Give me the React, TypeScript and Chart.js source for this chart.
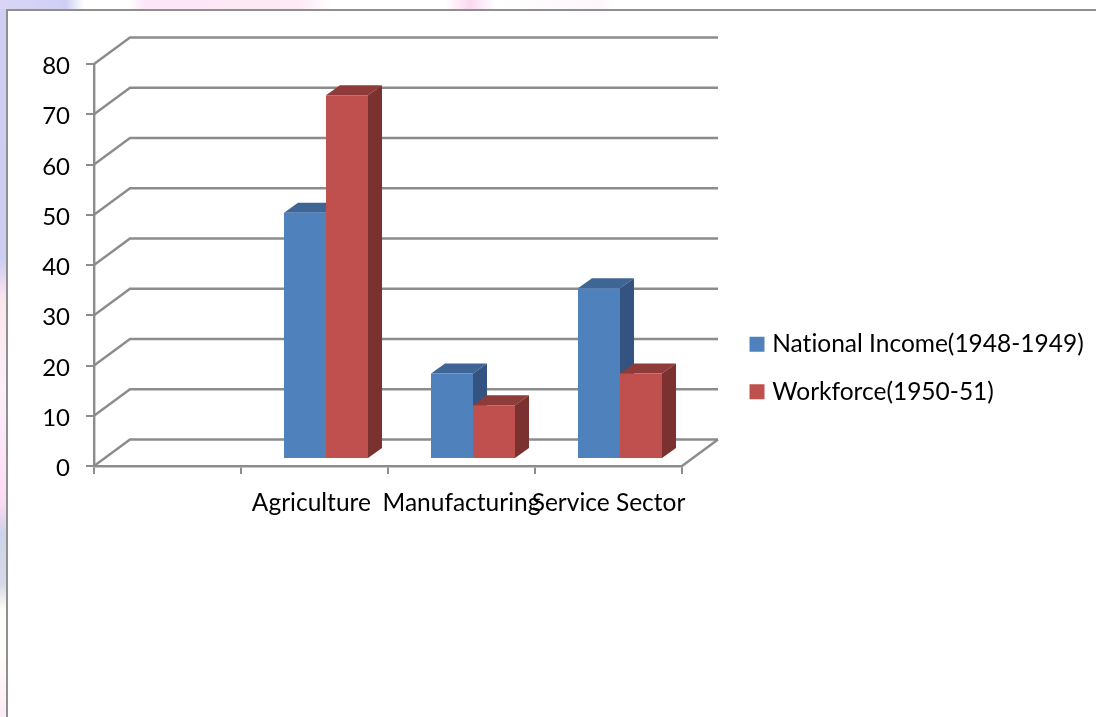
import React, { useEffect, useRef } from "react";
import { Chart, registerables } from "chart.js";

Chart.register(...registerables);

const categories = ["", "Agriculture ", "Manufacturing", "Service Sector"];
const nationalIncome = [null, 49, 17, 34];
const workforce = [null, 72.4, 10.7, 17];
const seriesNames = ["National Income(1948-1949)", "Workforce(1950-51)"];

const FONT = "Lato";
const GRID = "#8c8c8c";
const FRONT = ["#4f81bd", "#c0504d"];
const TOP = ["#3f6594", "#8f3b39"];
const SIDE = ["#335480", "#7b3130"];

// Perspective offsets for the back wall and for the bar depth.
const WALL = { x: 36, y: -26.5 };
const DEPTH = { x: 14, y: -10 };
const FLOOR_SHIFT = { x: 11.5, y: -7 };
const LEGEND_POS = { left: 731, top: 309 };

function poly(ctx: CanvasRenderingContext2D, color: string, pts: number[][]) {
  ctx.fillStyle = color;
  ctx.beginPath();
  pts.forEach(([x, y], i) => (i ? ctx.lineTo(x, y) : ctx.moveTo(x, y)));
  ctx.closePath();
  ctx.fill();
}

// Pseudo-3D: back wall lines, floor, and the top and side faces of each bar.
// Series are painted left to right so each front face covers its neighbour's side.
const depthPlugin = {
  id: "depth",
  beforeDatasetsDraw(chart: any) {
    const { ctx, chartArea, scales } = chart;
    ctx.save();
    ctx.strokeStyle = GRID;
    ctx.lineWidth = 2.4;
    ctx.lineJoin = "miter";
    for (const tick of scales.y.ticks) {
      const p = scales.y.getPixelForValue(tick.value);
      ctx.beginPath();
      ctx.moveTo(chartArea.left, p);
      ctx.lineTo(chartArea.left + WALL.x, p + WALL.y);
      ctx.lineTo(chartArea.right + WALL.x, p + WALL.y);
      ctx.stroke();
    }
    ctx.beginPath();
    ctx.moveTo(chartArea.right, chartArea.bottom);
    ctx.lineTo(chartArea.right + WALL.x, chartArea.bottom + WALL.y);
    ctx.stroke();
    ctx.restore();

    chart.data.datasets.forEach((ds: any, i: number) => {
      const meta = chart.getDatasetMeta(i);
      ctx.save();
      ctx.translate(FLOOR_SHIFT.x, FLOOR_SHIFT.y);
      meta.data.forEach((el: any, j: number) => {
        if (ds.data[j] == null) return;
        const l = el.x - el.width / 2;
        const r = el.x + el.width / 2;
        poly(ctx, TOP[i], [
          [l, el.y],
          [l + DEPTH.x, el.y + DEPTH.y],
          [r + DEPTH.x, el.y + DEPTH.y],
          [r, el.y],
        ]);
        poly(ctx, SIDE[i], [
          [r, el.y],
          [r + DEPTH.x, el.y + DEPTH.y],
          [r + DEPTH.x, el.base + DEPTH.y],
          [r, el.base],
        ]);
      });
      meta.controller.draw();
      ctx.restore();
    });
  },
  beforeDatasetDraw() {
    return false;
  },
  beforeDraw(chart: any) {
    chart.ctx.textRendering = "optimizeSpeed";
    // The legend floats to the right of the plot rather than taking layout room.
    const legend = chart.legend;
    legend.left = LEGEND_POS.left;
    legend.top = LEGEND_POS.top;
    legend.right = 1096;
    legend.bottom = 717;
  },
};

export default function App() {
  const ref = useRef<HTMLCanvasElement>(null);

  useEffect(() => {
    const chart = new Chart(ref.current!, {
      type: "bar",
      data: {
        labels: categories,
        datasets: [
          {
            label: seriesNames[0],
            data: nationalIncome,
            backgroundColor: FRONT[0],
            barPercentage: 1,
            categoryPercentage: 0.5714,
            borderWidth: 0,
          },
          {
            label: seriesNames[1],
            data: workforce,
            backgroundColor: FRONT[1],
            barPercentage: 1,
            categoryPercentage: 0.5714,
            borderWidth: 0,
          },
        ] as any,
      },
      plugins: [depthPlugin],
      options: {
        animation: false,
        responsive: false,
        layout: { padding: { left: 0, top: 64, right: 414, bottom: 0 } },
        plugins: {
          title: { display: false },
          tooltip: { enabled: false },
          legend: {
            position: "chartArea" as any,
            align: "start",
            labels: {
              usePointStyle: true,
              pointStyle: "rect",
              boxWidth: 6,
              boxHeight: 15,
              padding: 23,
              color: "#000",
              font: { family: FONT, size: 24.5 },
            },
          },
        },
        scales: {
          x: {
            afterFit: (s: any) => {
              s.height = 251;
            },
            grid: {
              offset: true,
              drawOnChartArea: false,
              drawTicks: true,
              tickLength: 8,
              color: GRID,
              lineWidth: 2,
            },
            border: { color: GRID, width: 2.4 },
            ticks: {
              autoSkip: false,
              maxRotation: 0,
              minRotation: 0,
              padding: 14,
              color: "#000",
              font: { family: FONT, size: 24.5 },
            },
          },
          y: {
            min: 0,
            max: 80,
            afterFit: (s: any) => {
              s.width = 94;
            },
            grid: {
              drawOnChartArea: false,
              drawTicks: true,
              tickLength: 8,
              color: GRID,
              lineWidth: 2,
            },
            border: { color: GRID, width: 2.4 },
            ticks: {
              stepSize: 10,
              padding: 16,
              labelOffset: 2.5,
              color: "#000",
              font: { family: FONT, size: 24 },
            },
          },
        },
      },
    });
    return () => chart.destroy();
  }, []);

  return (
    <div
      style={{
        position: "absolute",
        left: 0,
        top: 0,
        width: 1096,
        height: 717,
        overflow: "hidden",
        background:
          "linear-gradient(90deg, #d9d6f5 0, #cfcff5 66px, #ffffff 84px, #ffffff 128px, #fde6f6 145px, #fdeaf6 300px, #ffffff 330px, #ffffff 445px, #fbd9f2 470px, #ffffff 496px, #fdf6fb 600px, #ffffff 615px)",
      }}
    >
      <div
        style={{
          position: "absolute",
          left: 0,
          top: 9,
          width: 6,
          height: 708,
          background:
            "linear-gradient(180deg, #cfcff5 0, #cdcdf3 250px, #fbe6ee 290px, #fdeef8 380px, #fde0f6 470px, #fad9f4 495px, #cdd3ea 525px, #d6d9e6 575px, #fdfcf6 600px, #fdfcf6 650px, #fdeaf6 708px)",
        }}
      />
      <div
        style={{
          position: "absolute",
          left: 6,
          top: 9,
          width: 1090,
          height: 708,
          boxSizing: "border-box",
          background: "#fff",
          borderLeft: "2px solid #8f8f8f",
          borderTop: "2px solid #8f8f8f",
        }}
      />
      <canvas
        ref={ref}
        width={1096}
        height={717}
        style={{ position: "absolute", left: 0, top: 0, display: "block" }}
      />
    </div>
  );
}
